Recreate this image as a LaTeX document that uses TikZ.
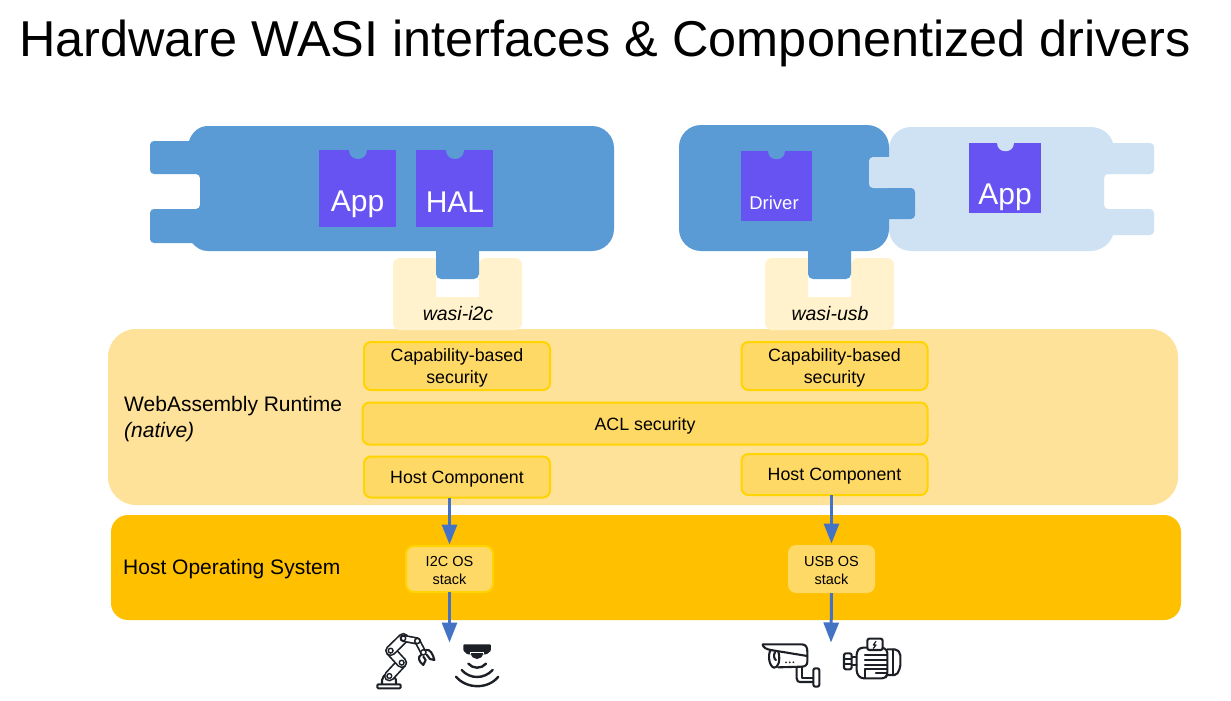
\documentclass[tikz,border=0pt]{standalone}
\usepackage{fontspec}
\setmainfont{Liberation Sans}
\usetikzlibrary{arrows.meta,calc}
\definecolor{pblue}{HTML}{5B9BD5}
\definecolor{plight}{HTML}{CFE2F3}
\definecolor{ppurple}{HTML}{6753F1}
\definecolor{pwasi}{HTML}{FFF2CC}
\definecolor{prun}{HTML}{FFE299}
\definecolor{pos}{HTML}{FFC000}
\definecolor{pbox}{HTML}{FFD966}
\definecolor{pedge}{HTML}{FFD400}
\definecolor{parrow}{HTML}{4472C4}
\definecolor{pink}{HTML}{1C2026}
\newcommand{\fsz}[2]{\fontsize{#1}{#2}\selectfont}
\newcommand{\lowered}[2]{\raisebox{-#1}[\height][\depth]{#2}}
\newcommand{\twolines}[3]{\lowered{#1}{\parbox{#2}{\centering #3}}}
\newcommand{\capsule}[3]{\draw[pink,line width=#1pt,line cap=round] #2 -- #3; \draw[white,line width=#1pt-3.4pt,line cap=round] #2 -- #3;}
\tikzset{
  secbox/.style={draw=pedge,fill=pbox,line width=2pt,rounded corners=7pt,inner sep=0pt,outer sep=0pt,align=center,font=\fsz{17.8}{22},text=black},
  osbox/.style={secbox,font=\fsz{14.5}{17.5},rounded corners=8pt},
  chip/.style={fill=ppurple,inner sep=0pt,outer sep=0pt},
  chiptext/.style={text=white,inner sep=0pt},
  plabel/.style={text=black,inner sep=0pt,align=left,font=\fsz{21}{26}},
  wasilabel/.style={text=black,inner sep=0pt,font=\fsz{19.5}{22}\itshape},
  flow/.style={draw=parrow,line width=3pt,shorten >=1.5pt,-{Triangle[length=20pt,width=15pt]}},
  icon/.style={draw=pink,line width=2.1pt,line cap=round,line join=round},
  joint/.style={draw=pink,fill=white,line width=1.4pt}
}
\begin{document}
\begin{tikzpicture}[x=1pt,y=-1pt]
\useasboundingbox (0,0) rectangle (1231,701);
\fill[white] (0,0) rectangle (1231,701);
\node[inner sep=0pt,anchor=center,text=black,font=\fsz{50.4}{56}] (title) at (605,43) {Hardware WASI interfaces \& Componentized drivers};

% runtime and OS layers
\node[fill=prun,rounded corners=28pt,minimum width=1070pt,minimum height=176pt,inner sep=0pt,outer sep=0pt] (runtime) at (643,417) {};
\node[fill=pos,rounded corners=17pt,minimum width=1070pt,minimum height=105pt,inner sep=0pt,outer sep=0pt] (hostos) at (646,567.5) {};

% wasi sockets
\fill[pwasi,rounded corners=7pt] (393,258) -- (393,330) -- (522,330) -- (522,258) -- (479,258)
  [sharp corners] -- (479,297) -- (436,297) -- (436,258) [rounded corners=7pt] -- cycle;
\fill[pwasi,rounded corners=7pt] (765,258) -- (765,330) -- (894,330) -- (894,258) -- (851,258)
  [sharp corners] -- (851,297) -- (808,297) -- (808,258) [rounded corners=7pt] -- cycle;
\node[wasilabel] (wasii) at (458,314) {wasi-i2c};
\node[wasilabel] (wasiu) at (830,314) {wasi-usb};

% left component
\fill[pblue,rounded corners=5pt] (436,240) -- (436,279) -- (479,279) -- (479,240) -- cycle;
\fill[pblue] (208,126) [rounded corners=22pt] -- (614,126) -- (614,251) [sharp corners] -- (208,251)
  .. controls (201,251) and (197,248) .. (192,243)
  [rounded corners=4pt] -- (150,243) -- (150,209) -- (200,209) -- (200,174) -- (150,174) -- (150,141)
  [sharp corners] -- (189,141) .. controls (192,132) and (199,126) .. (208,126) -- cycle;

% right components
\fill[plight] (912,127) [rounded corners=22pt] -- (889,127) -- (889,251) [sharp corners] -- (1090,251)
  .. controls (1101,251) and (1110,244) .. (1113,235)
  [rounded corners=4pt] -- (1154,235) -- (1154,209) -- (1104,209) -- (1104,174) -- (1154,174) -- (1154,143)
  [sharp corners] -- (1113,143) .. controls (1110,133) and (1101,127) .. (1090,127) -- cycle;
\fill[pblue,rounded corners=5pt] (808,240) -- (808,279) -- (851,279) -- (851,240) -- cycle;
\fill[pblue,rounded corners=22pt] (679,125) -- (889,125) [sharp corners] -- (889,188)
  [rounded corners=4pt] -- (915,188) -- (915,219) [sharp corners] -- (889,219) [rounded corners=22pt] -- (889,251) -- (679,251) -- cycle;
\fill[plight,rounded corners=4pt] (895,157) -- (869,157) -- (869,188) -- (895,188) [sharp corners] -- cycle;
\fill[plight] (889,157) rectangle (900,188);
\fill[pblue] (889,188) rectangle (893,219);

% chips
\node[chip,minimum width=77pt,minimum height=77pt] (app) at (357.5,188.5) {};
\node[chip,minimum width=77pt,minimum height=77pt] (hal) at (454.5,188.5) {};
\node[chip,minimum width=71pt,minimum height=70pt] (drv) at (776.5,186) {};
\node[chip,minimum width=72pt,minimum height=70pt] (app2) at (1005,178) {};
\fill[pblue] (349,150) .. controls (349,162) and (367,162) .. (367,150) -- cycle;
\fill[pblue] (445.5,150) .. controls (445.5,162) and (463.5,162) .. (463.5,150) -- cycle;
\fill[pblue] (768,151) .. controls (768,162) and (785,162) .. (785,151) -- cycle;
\fill[plight] (997,143) .. controls (997,154) and (1014,154) .. (1014,143) -- cycle;
\node[chiptext,font=\fsz{30}{36}] (applbl) at (357.5,204) {App};
\node[chiptext,font=\fsz{30}{36}] (hallbl) at (455,202) {HAL};
\node[chiptext,font=\fsz{18.5}{22}] (drvlbl) at (774,203) {Driver};
\node[chiptext,font=\fsz{30}{36}] (app2lbl) at (1005,197) {App};

% runtime boxes
\node[plabel,anchor=west] (rtlabel) at (124,419) {WebAssembly Runtime\\\textit{(native)}};
\node[secbox,minimum width=186pt,minimum height=48pt] (capl) at (457,366) {\twolines{2pt}{180pt}{Capability-based\\security}};
\node[secbox,minimum width=186pt,minimum height=48pt] (capr) at (834.5,366) {\twolines{2pt}{180pt}{Capability-based\\security}};
\node[secbox,minimum width=565pt,minimum height=42pt] (acl) at (645,423.5) {\lowered{2pt}{ACL security}};
\node[secbox,minimum width=186pt,minimum height=41pt] (hostl) at (457,477) {\lowered{2pt}{Host Component}};
\node[secbox,minimum width=186pt,minimum height=41pt] (hostr) at (834.5,474.5) {\lowered{2pt}{Host Component}};

% OS
\node[plabel,anchor=west] (oslabel) at (123,569) {Host Operating System};
\node[osbox,minimum width=87pt,minimum height=46pt] (i2c) at (449.5,569) {\twolines{1.5pt}{80pt}{I2C OS\\stack}};
\node[osbox,draw=none,minimum width=87pt,minimum height=48pt] (usb) at (831.5,569) {\twolines{1.5pt}{80pt}{USB OS\\stack}};

\coordinate (outl) at (449.5,644);
\coordinate (outr) at (831,644);
\draw[flow] (i2c.north |- hostl.south) -- (i2c.north);
\draw[flow] (usb.north |- hostr.south) -- (usb.north);
\draw[flow] (i2c.south) -- (outl);
\draw[flow] (usb.south) -- (outr);

% robot arm icon
\begin{scope}[shift={(360,610)},x=0.3333pt,y=-0.3333pt]
  \draw[icon,rounded corners=1pt] (52,223) rectangle (122,235);
  \draw[icon] (66,222) .. controls (62,180) and (112,180) .. (108,222);
  \capsule{11}{(88,198)}{(125,158)}
  \capsule{11}{(125,158)}{(92,122)}
  \capsule{11}{(92,122)}{(130,85)}
  \capsule{7.5}{(130,85)}{(172,93)}
  \capsule{6.5}{(172,93)}{(190,127)}
  \draw[joint] (88,198) circle[radius=2.4pt];
  \draw[joint] (125,158) circle[radius=2.4pt];
  \draw[joint] (92,122) circle[radius=2.4pt];
  \draw[joint] (130,85) circle[radius=2.4pt];
  \draw[joint] (172,93) circle[radius=2.6pt];
  \draw[joint] (190,127) circle[radius=2.6pt];
  \draw[icon] (184,134) .. controls (172,140) and (176,155) .. (190,165) -- (197,150) -- (190,140);
  \draw[icon] (198,120) .. controls (210,115) and (220,135) .. (223,150) -- (210,147) -- (200,134);
\end{scope}

% proximity sensor icon
\begin{scope}[shift={(360,610)},x=0.3333pt,y=-0.3333pt]
  \fill[pink,rounded corners=1pt] (310,103) -- (393,103) -- (393,122) -- (380,133) -- (322,133) -- (310,122) -- cycle;
  \fill[white] (330,125) -- (372,125) -- (372,132) -- (330,132) -- cycle;
  \fill[pink] (334,129) -- (368,129) .. controls (368,153) and (334,153) .. (334,129) -- cycle;
  \draw[icon,line width=2.4pt] (325,161) .. controls (338,177) and (365,177) .. (378,161);
  \draw[icon,line width=2.4pt] (305,180) .. controls (330,208) and (372,208) .. (398,180);
  \draw[icon,line width=2.4pt] (288,200) .. controls (320,238) and (385,238) .. (415,200);
\end{scope}

% camera icon
\begin{scope}[shift={(750,610)},x=0.3333pt,y=-0.3333pt]
  \draw[icon] (40,103) -- (155,103) .. controls (168,103) and (172,112) .. (172,125) -- (172,155) .. controls (172,165) and (165,170) .. (155,170) -- (85,172);
  \draw[icon] (38,103) .. controls (38,112) and (50,118) .. (62,120) -- (172,138);
  \draw[icon] (62,120) .. controls (52,135) and (58,170) .. (72,173) .. controls (85,175) and (92,150) .. (85,125);
  \draw[icon] (75,126) .. controls (70,135) and (72,148) .. (78,150);
  \fill[pink] (108,157) circle[radius=1pt] (119,157) circle[radius=1pt] (130,157) circle[radius=1pt];
  \draw[icon] (140,172) -- (140,205) .. controls (140,213) and (145,216) .. (150,216) -- (190,216);
  \draw[icon] (155,172) -- (155,203) -- (190,203);
  \draw[icon,rounded corners=2pt] (190,175) rectangle (208,230);
\end{scope}

% motor icon
\begin{scope}[shift={(750,610)},x=0.3333pt,y=-0.3333pt]
  \draw[icon,rounded corners=2pt] (352,86) rectangle (398,120);
  \draw[icon,line width=1.2pt] (378,94) -- (370,105) -- (378,105) -- (370,115);
  \draw[icon,rounded corners=3pt] (352,113) -- (330,113) -- (320,125) -- (320,190) -- (332,205) -- (405,205) -- (412,195) -- (412,120) -- (398,113);
  \draw[icon,rounded corners=2pt] (412,118) -- (440,118) -- (451,130) -- (451,172) -- (440,195) -- (412,195);
  \draw[icon] (430,118) -- (430,195);
  \draw[icon] (345,135) -- (410,135);
  \draw[icon] (345,150) -- (410,150);
  \draw[icon] (345,165) -- (410,165);
  \draw[icon] (345,178) -- (345,204);
  \draw[icon] (345,178) -- (410,178);
  \draw[icon] (378,189) -- (408,189);
  \draw[icon] (305,142) -- (320,142);
  \draw[icon] (305,166) -- (320,166);
  \draw[icon,rounded corners=2pt] (282,130) rectangle (305,178);
  \draw[icon] (282,146) -- (305,146);
  \draw[icon] (282,162) -- (305,162);
\end{scope}
\end{tikzpicture}
\end{document}
